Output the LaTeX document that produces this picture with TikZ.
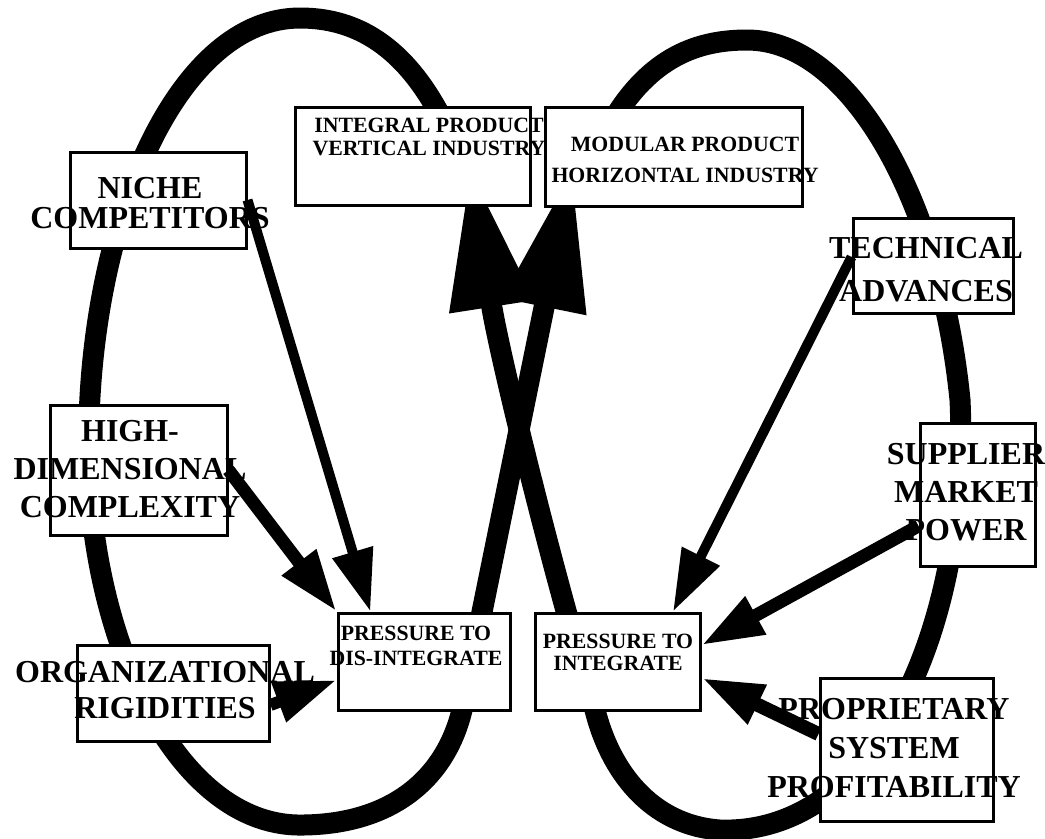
\documentclass[tikz,border=0pt]{standalone}
\usepackage{fontspec}
\setmainfont{Liberation Serif}
\usetikzlibrary{arrows.meta,calc}
\pgfdeclarelayer{back}
\pgfsetlayers{back,main}
\tikzset{
  box/.style={draw, fill=white, line width=0.3mm, inner sep=0pt},
  bigtxt/.style={font=\bfseries\fontsize{9.1}{#1}\selectfont, align=center, inner sep=0pt, anchor=north},
  smalltxt/.style={font=\bfseries\fontsize{6.2}{#1}\selectfont, align=center, inner sep=0pt, anchor=north},
  loopline/.style={line width=2.1mm, -{Triangle[length=14mm,width=8mm]}},
  push/.style={line width=#1, -{Triangle[length=6.2mm,width=4mm]}},
}
\begin{document}
\begin{tikzpicture}[x=0.1mm,y=-0.1mm]
\useasboundingbox (0,0) rectangle (1045,838);
% boxes
\node[box, minimum width=17.6mm, minimum height=9.6mm] (niche) at (158,200) {};
\node[box, minimum width=23.5mm, minimum height=9.8mm] (integral) at (412.5,156) {};
\node[box, minimum width=25.7mm, minimum height=9.9mm] (modular) at (673.5,156.5) {};
\node[box, minimum width=16mm, minimum height=9.5mm] (tech) at (933,265.5) {};
\node[box, minimum width=17.7mm, minimum height=13mm] (high) at (138.5,470) {};
\node[box, minimum width=11.5mm, minimum height=14.3mm] (supp) at (977.5,494.5) {};
\node[box, minimum width=19.2mm, minimum height=9.6mm] (org) at (173,693) {};
\node[box, minimum width=17.2mm, minimum height=9.7mm] (dis) at (424,661.5) {};
\node[box, minimum width=16.5mm, minimum height=9.7mm] (int) at (617.5,661.5) {};
\node[box, minimum width=17.3mm, minimum height=14.3mm] (prop) at (906.5,749.5) {};
% labels
\node[bigtxt=8.5pt] (nicheT) at (150,177) {NICHE\\COMPETITORS};
\node[smalltxt=6.6pt] (integralT) at (429,117) {INTEGRAL PRODUCT\\VERTICAL INDUSTRY};
\node[smalltxt=8.8pt] (modularT) at (685,136) {MODULAR PRODUCT\\HORIZONTAL INDUSTRY};
\node[bigtxt=12.2pt] (techT) at (926,237) {TECHNICAL\\ADVANCES};
\node[bigtxt=10.8pt] (highT) at (130,420) {HIGH-\\DIMENSIONAL\\COMPLEXITY};
\node[bigtxt=10.8pt] (suppT) at (966,443) {SUPPLIER\\MARKET\\POWER};
\node[bigtxt=10pt] (orgT) at (165,661) {ORGANIZATIONAL\\RIGIDITIES};
\node[smalltxt=7.1pt] (disT) at (416,625) {PRESSURE TO\\DIS-INTEGRATE};
\node[smalltxt=6.3pt] (intT) at (618,633) {PRESSURE TO\\INTEGRATE};
\node[bigtxt=11pt] (propT) at (894,698) {PROPRIETARY\\SYSTEM\\PROFITABILITY};
% forces
\draw[push=1mm] (niche.east) -- (dis.137);
\draw[push=1.3mm] (high.east) -- (dis.north west);
\draw[push=1.2mm] (org.-7) -- (dis.192);
\draw[push=1mm] (tech.174) -- (int.42);
\draw[push=1.3mm] (supp.208) -- (int.11);
\draw[push=1.4mm] (prop.170) -- (int.-11);
% the two loops, tips hidden under the boxes
\coordinate (lstart) at (440,115);
\coordinate (rstart) at (610,125);
\coordinate (ltip) at ($(modular.205)+(8,-38)$);
\coordinate (rtip) at ($(integral.-38)+(-7,-38)$);
\begin{pgfonlayer}{back}
\draw[loopline] (lstart) .. controls (400,40) and (350,18) .. (300,18)
  .. controls (180,18) and (95,210) .. (89,420)
  .. controls (80,620) and (170,825) .. (300,825)
  .. controls (390,825) and (445,780) .. (462,710) -- (ltip);
\draw[loopline] (rstart) .. controls (650,55) and (700,40) .. (747,40)
  .. controls (850,40) and (940,200) .. (960,400)
  .. controls (970,620) and (880,835) .. (720,830)
  .. controls (650,825) and (610,770) .. (595,710)
  .. controls (560,600) and (500,360) .. (rtip);
\end{pgfonlayer}
\end{tikzpicture}
\end{document}
